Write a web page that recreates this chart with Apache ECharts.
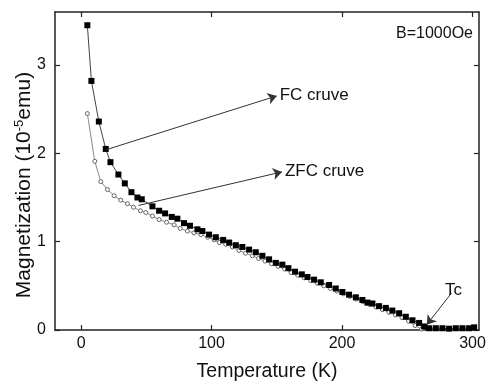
<!DOCTYPE html>
<html>
<head>
<meta charset="utf-8">
<script src="https://cdn.jsdelivr.net/npm/echarts@6/dist/echarts.min.js"></script>
<style>
  html, body { margin: 0; padding: 0; background: #fff; }
  #chart { width: 487px; height: 381px; }
</style>
</head>
<body>
<div id="chart"></div>
<script>
// Temperature (K) / magnetization (10^-5 emu)
const fcTemp = [4.8, 7.9, 13.6, 18.9, 22.5, 28.6, 33.5, 38.6, 43.2, 46.5, 54.7, 59.8, 64.4, 69.5, 73.8,
  78.9, 83.5, 89.2, 93.0, 98.1, 103.3, 108.9, 113.5, 118.6, 123.6, 128.8, 133.9, 139.0, 144.1, 149.3,
  154.3, 158.9, 164.0, 169.2, 173.5, 178.6, 183.7, 190.1, 195.2, 200.3, 205.4, 210.6, 215.6, 219.5,
  223.3, 228.4, 233.6, 238.6, 243.8, 248.9, 254.0, 259.1, 262.9, 266.8, 271.9, 277.0, 282.1, 287.2,
  292.3, 297.4, 301.3];
const fcMag = [3.45, 2.82, 2.36, 2.05, 1.90, 1.76, 1.66, 1.56, 1.50, 1.48, 1.40, 1.35, 1.32, 1.28, 1.26,
  1.21, 1.18, 1.14, 1.12, 1.08, 1.05, 1.02, 0.99, 0.96, 0.94, 0.91, 0.88, 0.84, 0.80, 0.76,
  0.74, 0.70, 0.66, 0.63, 0.60, 0.57, 0.54, 0.51, 0.47, 0.43, 0.40, 0.37, 0.34, 0.31,
  0.30, 0.27, 0.25, 0.22, 0.19, 0.15, 0.11, 0.08, 0.04, 0.02, 0.02, 0.02, 0.015, 0.02,
  0.02, 0.02, 0.03];

const zfcTemp = [4.8, 10.5, 15.1, 20.2, 25.3, 30.4, 35.5, 40.1, 45.5, 49.6, 54.7, 59.8, 65.5, 71.3, 76.0,
  81.5, 86.5, 91.8, 97.0, 102.0, 106.0, 110.9, 116.0, 121.0, 126.0, 131.3, 136.0, 141.0, 146.0, 151.0,
  156.0, 161.0, 166.0, 171.0, 176.0, 181.0, 186.0, 191.0, 196.0, 201.0, 206.0, 211.0, 216.0, 221.0,
  226.0, 231.0, 236.0, 241.0, 246.0, 251.0, 256.0, 261.0];
const zfcMag = [2.45, 1.91, 1.68, 1.59, 1.52, 1.47, 1.43, 1.39, 1.35, 1.33, 1.29, 1.25, 1.22, 1.19, 1.15,
  1.12, 1.10, 1.08, 1.05, 1.02, 0.99, 0.97, 0.94, 0.90, 0.87, 0.84, 0.81, 0.78, 0.75, 0.72,
  0.69, 0.65, 0.62, 0.59, 0.56, 0.53, 0.50, 0.47, 0.44, 0.41, 0.38, 0.35, 0.32, 0.29,
  0.26, 0.23, 0.20, 0.17, 0.14, 0.10, 0.05, 0.01];

const xTicks = [0, 100, 200, 300];
const yTicks = [0, 1, 2, 3];

// annotation arrows: [from, to] in data units
const fcArrow = [[19, 2.04], [150, 2.65]];
const zfcArrow = [[44, 1.41], [154, 1.79]];
const tcArrow = [[284, 0.42], [265, 0.06]];

const font = "'Liberation Sans', Arial, sans-serif";
const ink = "#222";

const chart = echarts.init(document.getElementById("chart"), null, { renderer: "canvas" });

const pairs = (xs, ys) => xs.map((x, i) => [x, ys[i]]);

const arrowLine = (arr, text, pos) => ({
  silent: true,
  symbol: ["none", "arrow"],
  symbolSize: 9,
  animation: false,
  lineStyle: { color: "#333", width: 1, type: "solid" },
  label: {
    show: true,
    position: pos,
    formatter: text,
    color: "#111",
    fontFamily: font,
    fontSize: 17,
    distance: 3,
  },
  data: [[{ coord: arr[0] }, { coord: arr[1] }]],
});

const xBase = {
  type: "value",
  min: -20,
  max: 305,
  axisLine: { onZero: false, lineStyle: { color: ink, width: 1.5 } },
  axisTick: { inside: true, length: 5, customValues: xTicks, lineStyle: { color: ink, width: 1.2 } },
  splitLine: { show: false },
};
const yBase = {
  type: "value",
  min: 0,
  max: 3.6,
  axisLine: { onZero: false, lineStyle: { color: ink, width: 1.5 } },
  axisTick: { inside: true, length: 5, customValues: yTicks, lineStyle: { color: ink, width: 1.2 } },
  splitLine: { show: false },
};

const option = {
  animation: false,
  backgroundColor: "#fff",
  grid: { left: 55, right: 8, top: 12, bottom: 51, outerBoundsMode: "none", containLabel: false },
  xAxis: [
    {
      ...xBase,
      position: "bottom",
      name: "Temperature (K)",
      nameLocation: "middle",
      nameGap: 32,
      nameTextStyle: { fontFamily: font, fontSize: 19.5, color: "#111" },
      axisLabel: { customValues: xTicks, margin: 6, fontFamily: font, fontSize: 16, color: "#111" },
    },
    {
      ...xBase,
      position: "top",
      axisLabel: { show: false },
    },
  ],
  yAxis: [
    {
      ...yBase,
      position: "left",
      name: "Magnetization (10{sup|-5}emu)",
      nameLocation: "middle",
      nameGap: 19,
      nameMoveOverlap: false,
      nameTextStyle: {
        fontFamily: font,
        fontSize: 21,
        color: "#111",
        padding: [0, 28, 0, 0],
        rich: { sup: { fontFamily: font, fontSize: 13, color: "#111", padding: [0, 0, 10, 0] } },
      },
      axisLabel: { customValues: yTicks, margin: 9, fontFamily: font, fontSize: 16, color: "#111" },
    },
    {
      ...yBase,
      position: "right",
      axisLabel: { show: false },
    },
  ],
  graphic: [
    {
      type: "text",
      right: 14,
      top: 26,
      style: { text: "B=1000Oe", font: "16px " + font, fill: "#111" },
    },
  ],
  series: [
    {
      name: "ZFC",
      type: "line",
      data: pairs(zfcTemp, zfcMag),
      symbol: "circle",
      symbolSize: 4,
      itemStyle: { color: "#fff", borderColor: "#666", borderWidth: 1 },
      lineStyle: { color: "#888", width: 1 },
      z: 2,
    },
    {
      name: "FC",
      type: "line",
      data: pairs(fcTemp, fcMag),
      symbol: "rect",
      symbolSize: 6,
      itemStyle: { color: "#000" },
      lineStyle: { color: "#444", width: 1 },
      z: 3,
      markLine: arrowLine(fcArrow, "FC cruve", "end"),
    },
    {
      name: "zfcNote",
      type: "line",
      data: [],
      markLine: arrowLine(zfcArrow, "ZFC cruve", "end"),
    },
    {
      name: "tcNote",
      type: "line",
      data: [],
      markLine: arrowLine(tcArrow, "Tc", "start"),
    },
  ],
};

chart.setOption(option);
</script>
</body>
</html>
